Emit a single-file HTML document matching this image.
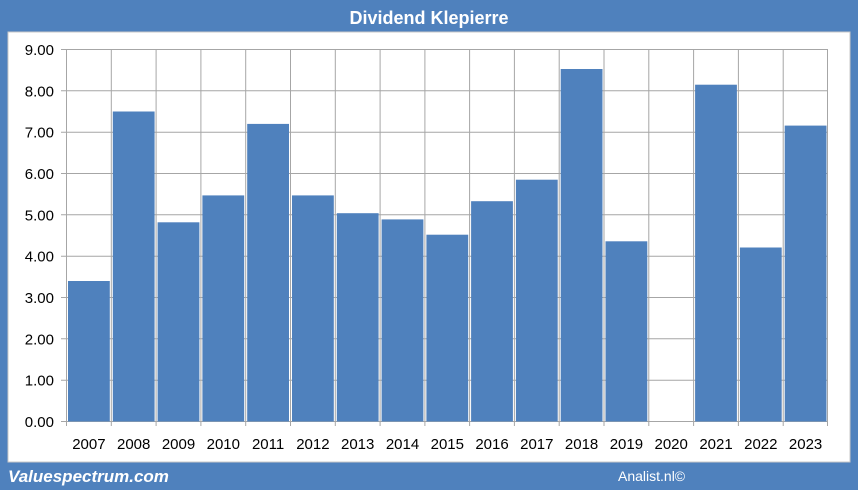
<html><body style="margin:0;width:858px;height:490px;background:#4f81bd;overflow:hidden">
<svg width="858" height="490" xmlns="http://www.w3.org/2000/svg" style="position:absolute;left:0;top:0;font-family:'Liberation Sans',sans-serif">
<rect x="0" y="0" width="858" height="490" fill="#4f81bd"/>
<rect x="8" y="32" width="842" height="430" fill="#fff" stroke="#c8c8c8"/>
<text x="429" y="24" text-anchor="middle" font-size="18" font-weight="bold" fill="#fff">Dividend Klepierre</text>
<g stroke="#a6a6a6" stroke-width="1">
<line x1="61" y1="49.5" x2="828" y2="49.5"/><line x1="61" y1="90.8" x2="828" y2="90.8"/><line x1="61" y1="132.2" x2="828" y2="132.2"/><line x1="61" y1="173.5" x2="828" y2="173.5"/><line x1="61" y1="214.8" x2="828" y2="214.8"/><line x1="61" y1="256.2" x2="828" y2="256.2"/><line x1="61" y1="297.5" x2="828" y2="297.5"/><line x1="61" y1="338.8" x2="828" y2="338.8"/><line x1="61" y1="380.2" x2="828" y2="380.2"/><line x1="61" y1="421.5" x2="828" y2="421.5"/>
<line x1="66.5" y1="49" x2="66.5" y2="426"/><line x1="111.3" y1="49" x2="111.3" y2="426"/><line x1="156.1" y1="49" x2="156.1" y2="426"/><line x1="200.9" y1="49" x2="200.9" y2="426"/><line x1="245.7" y1="49" x2="245.7" y2="426"/><line x1="290.5" y1="49" x2="290.5" y2="426"/><line x1="335.3" y1="49" x2="335.3" y2="426"/><line x1="380.1" y1="49" x2="380.1" y2="426"/><line x1="424.9" y1="49" x2="424.9" y2="426"/><line x1="469.6" y1="49" x2="469.6" y2="426"/><line x1="514.4" y1="49" x2="514.4" y2="426"/><line x1="559.2" y1="49" x2="559.2" y2="426"/><line x1="604" y1="49" x2="604" y2="426"/><line x1="648.8" y1="49" x2="648.8" y2="426"/><line x1="693.6" y1="49" x2="693.6" y2="426"/><line x1="738.4" y1="49" x2="738.4" y2="426"/><line x1="783.2" y1="49" x2="783.2" y2="426"/><line x1="827.5" y1="49" x2="827.5" y2="426"/>
</g>
<g fill="#4f81bd">
<rect x="68" y="281" width="41.8" height="140.5"/>
<rect x="112.8" y="111.5" width="41.8" height="310"/>
<rect x="157.6" y="222.3" width="41.8" height="199.2"/>
<rect x="202.4" y="195.4" width="41.8" height="226.1"/>
<rect x="247.2" y="123.9" width="41.8" height="297.6"/>
<rect x="292" y="195.4" width="41.8" height="226.1"/>
<rect x="336.8" y="213.2" width="41.8" height="208.3"/>
<rect x="381.6" y="219.4" width="41.8" height="202.1"/>
<rect x="426.4" y="234.7" width="41.8" height="186.8"/>
<rect x="471.1" y="201.2" width="41.8" height="220.3"/>
<rect x="515.9" y="179.7" width="41.8" height="241.8"/>
<rect x="560.7" y="69" width="41.8" height="352.5"/>
<rect x="605.5" y="241.3" width="41.8" height="180.2"/>
<rect x="695.1" y="84.7" width="41.8" height="336.8"/>
<rect x="739.9" y="247.5" width="41.8" height="174"/>
<rect x="784.7" y="125.6" width="41.8" height="295.9"/>
</g>
<g font-size="15" text-anchor="middle" fill="#000">
<text x="88.9" y="449">2007</text><text x="133.7" y="449">2008</text><text x="178.5" y="449">2009</text><text x="223.3" y="449">2010</text><text x="268.1" y="449">2011</text><text x="312.9" y="449">2012</text><text x="357.7" y="449">2013</text><text x="402.5" y="449">2014</text><text x="447.3" y="449">2015</text><text x="492" y="449">2016</text><text x="536.8" y="449">2017</text><text x="581.6" y="449">2018</text><text x="626.4" y="449">2019</text><text x="671.2" y="449">2020</text><text x="716" y="449">2021</text><text x="760.8" y="449">2022</text><text x="805.6" y="449">2023</text>
</g>
<g font-size="15" text-anchor="end" fill="#000">
<text x="54" y="55">9.00</text><text x="54" y="96.3">8.00</text><text x="54" y="137.7">7.00</text><text x="54" y="179">6.00</text><text x="54" y="220.3">5.00</text><text x="54" y="261.7">4.00</text><text x="54" y="303">3.00</text><text x="54" y="344.3">2.00</text><text x="54" y="385.7">1.00</text><text x="54" y="427">0.00</text>
</g>
<text x="8" y="482" font-size="17" font-weight="bold" font-style="italic" fill="#fff">Valuespectrum.com</text>
<text x="618" y="481" font-size="14" fill="#fff">Analist.nl©</text>
</svg>
</body></html>
